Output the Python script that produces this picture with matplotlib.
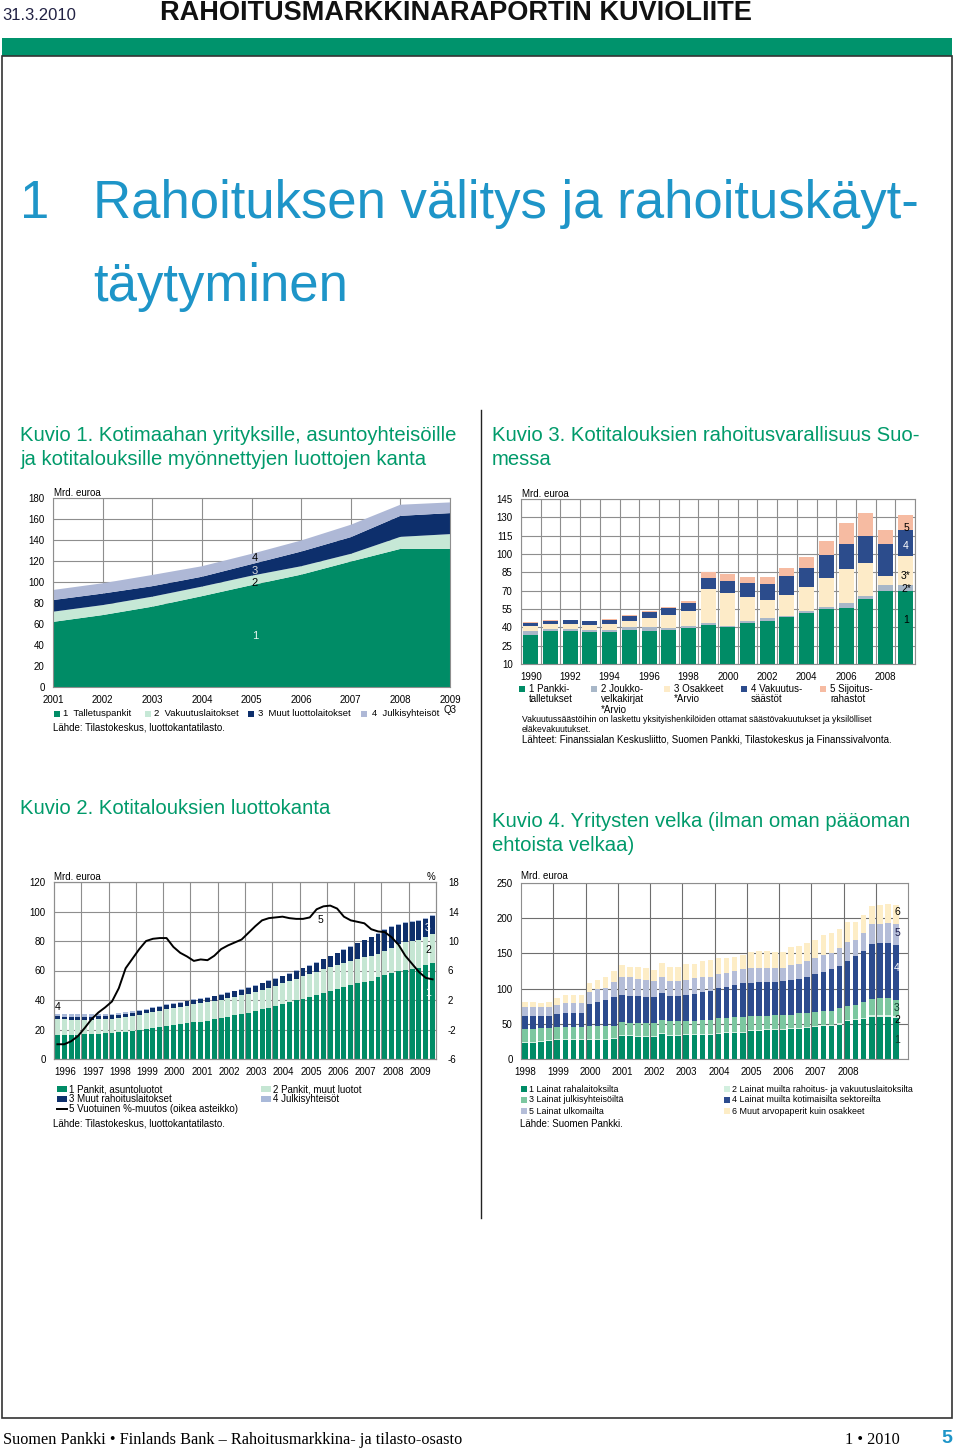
import numpy as np
import matplotlib
matplotlib.use('Agg')
import matplotlib.pyplot as plt
from matplotlib.patches import Rectangle
from matplotlib.lines import Line2D

plt.rcParams['font.family'] = ['Liberation Sans', 'DejaVu Sans']
plt.rcParams['axes.unicode_minus'] = False

# ---------------- DATA ----------------
# Kuvio 1 (stacked areas, cumulative tops), Mrd. euroa
c1_years = [2001, 2002, 2003, 2004, 2005, 2006, 2007, 2008, 2009]
c1_top1 = [62, 68.5, 76.5, 86.5, 97, 107, 119.5, 131.5, 131.5]
c1_top2 = [71.7, 78, 86, 95.6, 106, 115, 126.8, 143, 145.6]
c1_top3 = [82.8, 89, 96, 105, 117, 129, 142.7, 163, 165.6]
c1_top4 = [92.4, 98.8, 106.7, 115, 126.8, 139.5, 154.5, 173.6, 175.8]
c1_labels = ["1  Talletuspankit", "2  Vakuutuslaitokset", "3  Muut luottolaitokset", "4  Julkisyhteisöt"]

# Kuvio 3 (stacked bars, cumulative tops), Mrd. euroa
c3_years = list(range(1990, 2010))
c3_top1 = [33.7, 37, 37.3, 36.5, 36.2, 37.8, 37.3, 37.8, 39.2, 41.9, 40.5, 43.8, 45.5, 48.2, 51.5, 54.7, 55.5, 63, 69.7, 69.7]
c3_top2 = [36.7, 38.4, 38.4, 37.8, 37.8, 40.5, 40, 39.5, 41.4, 43.3, 41.4, 45, 47.4, 49.5, 53.4, 57, 59.6, 66, 74.4, 75]
c3_top3 = [41, 42.7, 42.5, 42, 42.7, 45.5, 47.4, 50, 53.4, 71, 68.4, 64.5, 62.4, 66.7, 72.7, 80, 87.4, 93, 82, 98.4]
c3_top4 = [43.8, 45.4, 45.7, 45, 46, 49.5, 52.8, 55.5, 60, 80.4, 78.2, 76, 75.5, 82, 88.8, 99, 108, 114.7, 108, 119.6]
c3_top5 = [44.3, 46, 46.2, 45.5, 46.5, 50, 53.5, 56.5, 61.8, 85.3, 83.4, 81.5, 81, 88.8, 97.5, 111, 125.6, 133.8, 119.6, 132]
c3_labels = [["1 Pankki-", "talletukset"], ["2 Joukko-", "velkakirjat", "*Arvio"], ["3 Osakkeet", "*Arvio"],
             ["4 Vakuutus-", "säästöt"], ["5 Sijoitus-", "rahastot"]]

# Kuvio 2 (quarterly stacked bars 1996Q1-2009Q4, cumulative tops) + yearly % change line
c2_first_year = 1996
c2_top1 = [16.5, 16.5, 16.5, 16.5, 16.7, 16.9, 17.1, 17.3, 17.6, 18.0, 18.4, 19.0,
           19.6, 20.3, 21.0, 21.7, 22.3, 23.0, 23.6, 24.2, 24.8, 25.4, 26.1, 26.8,
           27.6, 28.5, 29.5, 30.5, 31.4, 32.4, 33.6, 34.8, 36.0, 37.2, 38.5, 39.8,
           41.0, 42.2, 43.6, 45.0, 46.2, 47.4, 48.8, 50.2, 51.4, 52.5, 53.2, 55.5,
           57.0, 58.5, 59.6, 60.6, 61.2, 62.0, 63.8, 65.2]
c2_top2 = [27.0, 26.8, 26.7, 26.5, 26.6, 26.7, 26.9, 27.1, 27.4, 27.9, 28.4, 29.2,
           30.0, 30.9, 31.8, 32.7, 33.6, 34.5, 35.4, 36.2, 37.0, 37.7, 38.5, 39.3,
           40.2, 41.2, 42.3, 43.4, 44.4, 45.6, 47.0, 48.4, 49.8, 51.3, 52.9, 54.5,
           56.0, 57.5, 59.2, 60.9, 62.3, 63.7, 65.2, 66.7, 67.9, 69.0, 69.6, 71.5,
           73.0, 75.5, 78.0, 79.5, 80.0, 80.8, 82.8, 84.5]
c2_top3 = [28.9, 28.8, 28.7, 28.5, 28.6, 28.7, 28.9, 29.1, 29.5, 30.0, 30.6, 31.4,
           32.3, 33.3, 34.3, 35.3, 36.4, 37.3, 38.3, 39.1, 40.0, 40.8, 41.6, 42.5,
           43.5, 44.6, 45.8, 47.0, 48.2, 49.6, 51.2, 52.8, 54.2, 56.0, 57.8, 59.6,
           61.4, 63.2, 65.4, 67.6, 69.6, 71.6, 73.8, 76.2, 78.4, 80.4, 82.4, 85.0,
           87.4, 89.4, 91.0, 92.2, 93.0, 93.8, 95.2, 97.0]
c2_top4 = [30.7, 30.6, 30.4, 30.2, 30.2, 30.2, 30.3, 30.4, 30.7, 31.2, 31.7, 32.4,
           33.2, 34.1, 35.1, 36.0, 37.0, 37.9, 38.8, 39.6, 40.5, 41.3, 42.1, 43.0,
           44.0, 45.1, 46.3, 47.5, 48.7, 50.1, 51.7, 53.3, 54.7, 56.5, 58.3, 60.1,
           61.9, 63.7, 65.9, 68.1, 70.1, 72.1, 74.3, 76.7, 78.9, 80.9, 82.9, 85.5,
           87.9, 89.9, 91.5, 92.7, 93.5, 94.3, 95.7, 97.5]
c2_change = [-4.0, -4.0, -3.6, -2.9, -1.8, -0.6, 0.3, 1.0, 1.8, 3.6, 6.3, 7.6,
             8.9, 10.0, 10.3, 10.4, 10.4, 9.2, 8.4, 7.9, 7.3, 7.5, 7.4, 8.0,
             8.9, 9.4, 9.8, 10.2, 11.1, 12.0, 12.8, 13.1, 13.2, 13.3, 13.1, 13.0,
             13.0, 13.2, 14.3, 14.7, 14.8, 14.4, 13.3, 12.8, 12.6, 12.4, 11.6, 11.3,
             11.2, 10.5, 9.5, 8.0, 6.9, 5.8, 5.0, 4.8]
c2_year_labels = [str(y) for y in range(1996, 2010)]
c2_labels = ["1 Pankit, asuntoluotot", "2 Pankit, muut luotot", "3 Muut rahoituslaitokset",
             "4 Julkisyhteisöt", "5 Vuotuinen %-muutos (oikea asteikko)"]

# Kuvio 4 (quarterly stacked bars 1998Q1-2009Q3, cumulative tops), Mrd. euroa
c4_first_year = 1998
c4_top1 = [22.6, 22.6, 23.6, 25.0, 26.4, 27.4, 27.4, 27.4, 27.4, 27.4, 27.4, 28.3,
           32.0, 32.0, 31.5, 31.0, 31.0, 35.8, 33.0, 33.0, 34.4, 34.4, 34.4, 34.4,
           35.8, 36.8, 36.8, 36.8, 39.1, 40.1, 40.6, 41.5, 41.5, 42.5, 42.5, 43.9,
           45.3, 46.2, 47.2, 48.6, 53.3, 54.7, 56.6, 59.4, 60.3, 59.4, 58.0]
c4_top2 = [24.0, 24.0, 25.0, 26.4, 27.8, 28.8, 28.8, 28.8, 28.8, 28.8, 28.8, 29.7,
           33.5, 33.5, 33.0, 32.5, 32.5, 37.3, 34.5, 34.5, 35.9, 35.9, 35.9, 35.9,
           37.3, 38.3, 38.3, 38.3, 40.6, 41.6, 42.1, 43.0, 43.0, 44.0, 44.0, 45.5,
           47.0, 48.0, 49.0, 50.5, 55.3, 56.8, 58.8, 61.8, 62.8, 61.9, 60.5]
c4_top3 = [42.8, 42.8, 43.7, 44.7, 46.1, 46.1, 46.1, 46.1, 47.5, 47.5, 47.5, 47.5,
           53.2, 51.8, 51.8, 51.4, 51.8, 55.5, 54.6, 54.6, 54.6, 54.6, 55.5, 55.5,
           57.9, 57.9, 59.4, 59.4, 61.2, 61.7, 61.7, 62.7, 62.7, 62.7, 65.0, 66.0,
           66.9, 68.3, 68.8, 72.1, 75.4, 76.8, 80.6, 84.8, 86.2, 86.2, 83.9]
c4_top4 = [61.7, 61.7, 61.2, 61.2, 64.1, 65.0, 65.0, 65.0, 78.2, 81.5, 83.9, 87.6,
           90.9, 89.5, 89.5, 88.6, 88.6, 93.3, 90.0, 90.0, 90.9, 92.4, 95.7, 96.6,
           100.4, 102.8, 105.1, 107.5, 107.5, 108.9, 108.9, 108.9, 111.2, 112.2, 113.1, 116.0,
           120.2, 124.0, 127.3, 132.0, 139.1, 146.2, 153.2, 163.1, 164.1, 164.1, 161.7]
c4_top5 = [74.4, 74.4, 73.5, 73.5, 76.8, 80.1, 80.1, 80.1, 95.7, 99.0, 100.4, 109.8,
           116.9, 116.0, 113.1, 112.2, 110.8, 116.0, 110.8, 110.8, 112.2, 114.5, 116.0, 116.9,
           120.7, 122.6, 125.4, 127.3, 128.7, 129.6, 129.6, 129.6, 129.6, 133.4, 134.8, 139.5,
           142.8, 147.5, 150.8, 157.9, 166.4, 169.7, 179.6, 192.3, 192.3, 193.3, 191.4]
c4_top6 = [81.5, 81.5, 80.1, 81.5, 86.2, 90.9, 90.9, 90.9, 107.5, 112.2, 116.9, 125.4,
           133.4, 130.1, 130.1, 128.7, 126.4, 135.8, 131.0, 131.0, 134.9, 134.9, 139.5, 140.5,
           142.8, 143.8, 145.2, 147.5, 152.3, 153.7, 153.7, 152.3, 152.3, 159.3, 160.3, 165.0,
           169.7, 175.8, 179.1, 185.3, 194.7, 194.7, 204.1, 216.8, 218.2, 219.6, 218.2]
c4_year_labels = [str(y) for y in range(1998, 2009)]
c4_labels = ["1 Lainat rahalaitoksilta", "2 Lainat muilta rahoitus- ja vakuutuslaitoksilta",
             "3 Lainat julkisyhteisöiltä", "4 Lainat muilta kotimaisilta sektoreilta",
             "5 Lainat ulkomailta", "6 Muut arvopaperit kuin osakkeet"]

# ---------------- STYLE ----------------
GREEN = '#008C66'
BLUE_HEAD = '#1E95C8'
TITLE_GREEN = '#009A6A'
GRID = '#8E8E8E'
W, H = 960, 1450

fig = plt.figure(figsize=(9.6, 14.5), dpi=100)


def fx(x):
    return x / W


def fy(y):
    return 1 - y / H


def add_ax(l, t, r, b):
    return fig.add_axes([fx(l), fy(b), (r - l) / W, (b - t) / H])


def ftext(x, y, s, **kw):
    kw.setdefault('fontsize', 7)
    kw.setdefault('va', 'center')
    kw.setdefault('ha', 'left')
    fig.text(fx(x), fy(y), s, **kw)


def fsquare(x, y, c, w=6, h=6):
    fig.add_artist(Rectangle((fx(x - w / 2), fy(y + h / 2)), w / W, h / H,
                             transform=fig.transFigure, facecolor=c, edgecolor='none'))


def style_ax(ax):
    ax.set_axisbelow(True)
    for s in ax.spines.values():
        s.set_color(GRID)
        s.set_linewidth(0.8)
    ax.tick_params(length=0, labelsize=7, pad=6)


# ---------------- PAGE ----------------
ftext(2, 15, "31.3.2010", fontsize=12, color='#222244')
ftext(160, 13, "RAHOITUSMARKKINARAPORTIN KUVIOLIITE", fontsize=19.5, fontweight='bold', color='#111111')
fig.add_artist(Rectangle((fx(2), fy(56)), 950 / W, 18 / H, transform=fig.transFigure,
                         facecolor='#00936C', edgecolor='none'))
fig.add_artist(Rectangle((fx(2), fy(1418)), 950 / W, 1362 / H, transform=fig.transFigure,
                         fill=False, edgecolor='#333333', lw=1.2))
fig.add_artist(Line2D([fx(481), fx(481)], [fy(410), fy(1218)], transform=fig.transFigure,
                      color='#222222', lw=1))

ftext(20, 218, "1", fontsize=38, color=BLUE_HEAD, va='baseline')
ftext(93, 218, "Rahoituksen välitys ja rahoituskäyt-", fontsize=38, color=BLUE_HEAD, va='baseline')
ftext(93, 301, "täytyminen", fontsize=38, color=BLUE_HEAD, va='baseline')

TS = 14.6
ftext(20, 441, "Kuvio 1. Kotimaahan yrityksille, asuntoyhteisöille", fontsize=TS, color=TITLE_GREEN, va='baseline')
ftext(20, 465, "ja kotitalouksille myönnettyjen luottojen kanta", fontsize=TS, color=TITLE_GREEN, va='baseline')
ftext(492, 441, "Kuvio 3. Kotitalouksien rahoitusvarallisuus Suo-", fontsize=TS, color=TITLE_GREEN, va='baseline')
ftext(492, 465, "messa", fontsize=TS, color=TITLE_GREEN, va='baseline')
ftext(20, 814, "Kuvio 2. Kotitalouksien luottokanta", fontsize=TS, color=TITLE_GREEN, va='baseline')
ftext(492, 827, "Kuvio 4. Yritysten velka (ilman oman pääoman", fontsize=TS, color=TITLE_GREEN, va='baseline')
ftext(492, 851, "ehtoista velkaa)", fontsize=TS, color=TITLE_GREEN, va='baseline')

ftext(3, 1444, "Suomen Pankki \u2022 Finlands Bank \u2013 Rahoitusmarkkina- ja tilasto-osasto",
      fontsize=11.7, family=['Liberation Serif'], va='baseline')
ftext(845, 1444, "1 \u2022 2010", fontsize=11.7, family=['Liberation Serif'], va='baseline')
ftext(941, 1443, "5", fontsize=14, fontweight='bold', color=BLUE_HEAD, va='baseline')

# ---------------- KUVIO 1 ----------------
ax1 = add_ax(53, 498, 450, 687)
c1_cols = [GREEN, '#C6E8D6', '#0D2F6C', '#AEB8D6']
t = [np.zeros(len(c1_years)), np.array(c1_top1), np.array(c1_top2), np.array(c1_top3), np.array(c1_top4)]
ax1.stackplot(c1_years, *[t[i + 1] - t[i] for i in range(4)], colors=c1_cols, lw=0)
ax1.set_xlim(2001, 2009)
ax1.set_ylim(0, 180)
ax1.set_xticks(c1_years)
ax1.set_yticks(range(0, 181, 20))
ax1.grid(True, color=GRID, lw=0.8)
style_ax(ax1)
ftext(54, 493, "Mrd. euroa", fontsize=7)
ftext(444, 710, "Q3", fontsize=7)
for lab, yy, col in [("4", 558, 'black'), ("3", 571, '#dddddd'), ("2", 583, 'black'), ("1", 636, '#e8f5ef')]:
    ftext(255, yy, lab, fontsize=8, ha='center', color=col)
leg1 = [(57, 63), (148, 154), (251, 258), (364, 372)]
for (sx, tx), c, lab in zip(leg1, c1_cols, c1_labels):
    fsquare(sx, 714, c)
    ftext(tx, 714, lab, fontsize=6.8)
ftext(53, 728, "Lähde: Tilastokeskus, luottokantatilasto.", fontsize=7)

# ---------------- KUVIO 3 ----------------
ax3 = add_ax(521, 499, 915, 664)
c3_cols = [GREEN, '#A8B7C8', '#FDEBC8', '#2C4C8C', '#F6BBA2']
x3 = np.arange(len(c3_years))
tops3 = [np.zeros(len(x3)), np.array(c3_top1), np.array(c3_top2), np.array(c3_top3),
         np.array(c3_top4), np.array(c3_top5)]
for i in range(5):
    ax3.bar(x3, tops3[i + 1] - tops3[i], bottom=tops3[i], width=0.76, color=c3_cols[i], lw=0)
ax3.set_xlim(-0.5, len(x3) - 0.5)
ax3.set_ylim(10, 145)
ax3.set_yticks(range(10, 146, 15))
ax3.set_xticks(x3[::2])
ax3.set_xticklabels([str(y) for y in c3_years[::2]])
ax3.set_xticks(np.arange(-0.5, len(x3), 1), minor=True)
ax3.tick_params(which='minor', length=0)
ax3.grid(True, which='minor', axis='x', color=GRID, lw=0.8)
ax3.grid(True, which='major', axis='y', color=GRID, lw=0.8)
style_ax(ax3)
ftext(522, 494, "Mrd. euroa", fontsize=7)
for lab, yy, col in [("5", 528, 'black'), ("4", 546, 'white'), ("3*", 576, 'black'),
                     ("2*", 589, 'black'), ("1", 620, 'black')]:
    ftext(906, yy, lab, fontsize=7.5, ha='center', color=col)
leg3 = [522, 594, 667, 744, 823]
for sx, c, lines in zip(leg3, c3_cols, c3_labels):
    fsquare(sx, 689, c)
    for j, line in enumerate(lines):
        ftext(sx + 7, [689, 699.5, 710][j], line, fontsize=7)
ftext(522, 720, "Vakuutussäästöihin on laskettu yksityishenkilöiden ottamat säästövakuutukset ja yksilölliset",
      fontsize=6.2)
ftext(522, 729, "eläkevakuutukset.", fontsize=6.2)
ftext(522, 740, "Lähteet: Finanssialan Keskusliitto, Suomen Pankki, Tilastokeskus ja Finanssivalvonta.",
      fontsize=7)

# ---------------- KUVIO 2 ----------------
ax2 = add_ax(54, 882, 436, 1059)
c2_cols = [GREEN, '#C5E6D3', '#0E2F6B', '#A9B9D9']
n2 = len(c2_top1)
x2 = c2_first_year + (np.arange(n2) + 0.5) / 4
tops2 = [np.zeros(n2), np.array(c2_top1), np.array(c2_top2), np.array(c2_top3), np.array(c2_top4)]
for i in range(4):
    ax2.bar(x2, tops2[i + 1] - tops2[i], bottom=tops2[i], width=0.18, color=c2_cols[i], lw=0)
ax2.set_xlim(1996, 2010)
ax2.set_ylim(0, 120)
ax2.set_yticks(range(0, 121, 20))
ax2.set_xticks(np.arange(1996, 2010) + 0.42)
ax2.set_xticklabels(c2_year_labels)
ax2.set_xticks(np.arange(1997, 2010), minor=True)
ax2.tick_params(which='minor', length=0)
ax2.grid(True, which='minor', axis='x', color=GRID, lw=0.8)
ax2.grid(True, which='major', axis='y', color=GRID, lw=0.8)
style_ax(ax2)
ax2r = ax2.twinx()
ax2r.plot(x2, c2_change, color='black', lw=1.4)
ax2r.set_ylim(-6, 18)
ax2r.set_yticks(range(-6, 19, 4))
style_ax(ax2r)
ax2r.tick_params(pad=8.6)
ftext(54, 877, "Mrd. euroa", fontsize=7)
ftext(427, 877, "%", fontsize=7)
for lab, xx, yy, col in [("4", 58, 1007, 'black'), ("5", 320, 920, 'black'), ("3", 428, 928, 'white'),
                         ("2", 428, 950, 'black'), ("1", 428, 993, 'white')]:
    ftext(xx, yy, lab, fontsize=7.5, ha='center', color=col)
leg2 = [(58, 1089, 0), (262, 1089, 1), (58, 1099, 2), (262, 1099, 3)]
for sx, yy, k in leg2:
    fsquare(sx + 4, yy, c2_cols[k], w=10, h=6)
    ftext(sx + 11, yy, c2_labels[k], fontsize=7)
fig.add_artist(Line2D([fx(57), fx(67)], [fy(1109), fy(1109)], transform=fig.transFigure,
                      color='black', lw=1.4))
ftext(69, 1109, c2_labels[4], fontsize=7)
ftext(53, 1123, "Lähde: Tilastokeskus, luottokantatilasto.", fontsize=7)

# ---------------- KUVIO 4 ----------------
ax4 = add_ax(521, 883, 908, 1059)
c4_cols = [GREEN, '#D2EFDF', '#7CC7A0', '#2C4B8E', '#B4BDD8', '#FDEDC6']
n4 = len(c4_top1)
x4 = c4_first_year + (np.arange(n4) + 0.5) / 4
tops4 = [np.zeros(n4), np.array(c4_top1), np.array(c4_top2), np.array(c4_top3),
         np.array(c4_top4), np.array(c4_top5), np.array(c4_top6)]
for i in range(6):
    ax4.bar(x4, tops4[i + 1] - tops4[i], bottom=tops4[i], width=0.175, color=c4_cols[i], lw=0)
ax4.set_xlim(1998, 2010)
ax4.set_ylim(0, 250)
ax4.set_yticks(range(0, 251, 50))
ax4.set_xticks(np.arange(1998, 2009) + 0.14)
ax4.set_xticklabels(c4_year_labels)
ax4.set_xticks(np.arange(1999, 2010), minor=True)
ax4.tick_params(which='minor', length=0)
ax4.grid(True, which='minor', axis='x', color='#6E6E6E', lw=0.8)
ax4.grid(True, which='major', axis='y', color='#6E6E6E', lw=0.8)
style_ax(ax4)
ftext(521, 876, "Mrd. euroa", fontsize=7)
for lab, yy, col in [("6", 912, 'black'), ("5", 933, '#1a1a4a'), ("4", 968, 'white'),
                     ("3", 1008, '#0b3b2b'), ("2", 1020, 'black'), ("1", 1040, '#0b3b2b')]:
    ftext(897, yy, lab, fontsize=7.5, ha='center', color=col)
leg4 = [(522, 1089, 0), (725, 1089, 1), (522, 1100, 2), (725, 1100, 3), (522, 1111, 4), (725, 1111, 5)]
for sx, yy, k in leg4:
    fsquare(sx + 2, yy, c4_cols[k])
    ftext(sx + 7, yy, c4_labels[k], fontsize=6.4)
ftext(520, 1124, "Lähde: Suomen Pankki.", fontsize=7)

fig.savefig('out.png', dpi=100)
